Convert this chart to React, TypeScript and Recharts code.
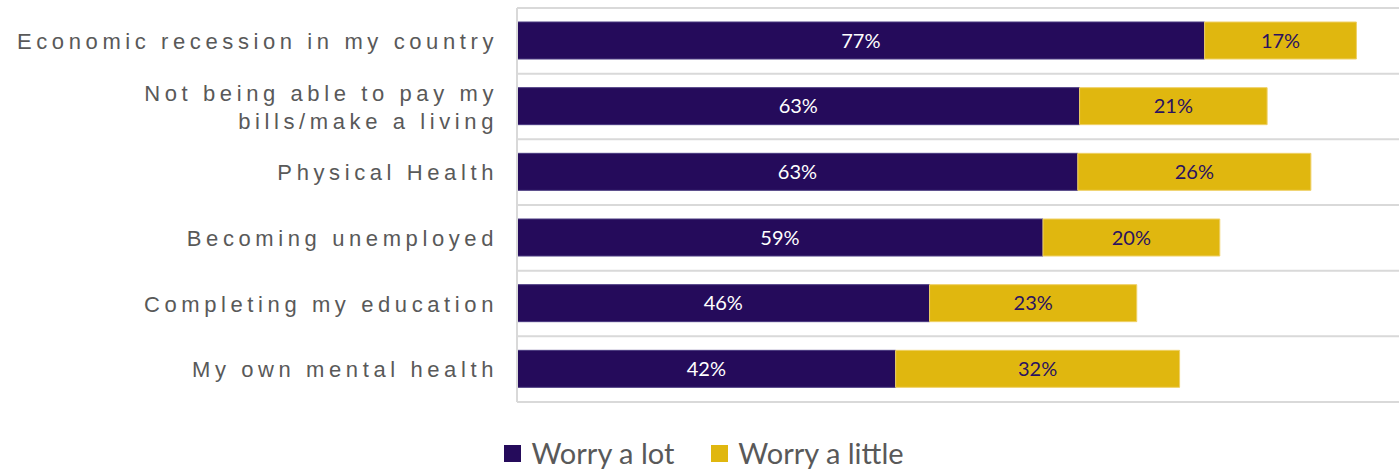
import { BarChart, Bar, XAxis, YAxis, CartesianGrid, Legend, LabelList } from 'recharts';

// Worry survey: share of respondents per concern
const categories = [
  'Economic recession in my country',
  'Not being able to pay my\nbills/make a living',
  'Physical Health',
  'Becoming unemployed',
  'Completing my education',
  'My own mental health',
];
const worryALot = [77, 63, 62.8, 58.9, 46.2, 42.4];
const worryALittle = [17, 21, 26.1, 19.8, 23.2, 31.8];

const colors = {
  lot: '#250b5b',
  little: '#e0b70f',
  grid: '#d9d9d9',
  text: '#595959',
  darkLabel: '#2a1260',
};

const data = categories.map((name, i) => ({
  name,
  lot: worryALot[i],
  little: worryALittle[i],
}));

const pct = (v: any) => `${Math.round(Number(v))}%`;

function CategoryTick(props: any) {
  const { x, y, payload } = props;
  const lines = String(payload.value).split('\n');
  const lineHeight = 28;
  const startY = y - ((lines.length - 1) * lineHeight) / 2;
  return (
    <text
      x={x}
      y={startY}
      textAnchor="end"
      dominantBaseline="central"
      fill={colors.text}
      fontSize={22}
      fontFamily="'Liberation Sans', Arial, sans-serif"
      letterSpacing={4.6}
    >
      {lines.map((line, i) => (
        <tspan key={i} x={x} y={startY + i * lineHeight}>
          {line}
        </tspan>
      ))}
    </text>
  );
}

function LegendContent() {
  const items = [
    { label: 'Worry a lot', color: colors.lot },
    { label: 'Worry a little', color: colors.little },
  ];
  return (
    <div style={{ display: 'flex', justifyContent: 'center', alignItems: 'center', gap: 37 }}>
      {items.map(item => (
        <div key={item.label} style={{ display: 'flex', alignItems: 'center' }}>
          <span style={{ width: 17, height: 17, background: item.color, marginRight: 10, display: 'inline-block' }} />
          <span style={{ color: colors.text, fontSize: 29, fontFamily: 'Lato, sans-serif', lineHeight: '28px' }}>
            {item.label}
          </span>
        </div>
      ))}
    </div>
  );
}

export default function App() {
  const n = categories.length;
  return (
    <div style={{ position: 'absolute', left: 0, top: 0, width: 1399, height: 469, overflow: 'hidden', background: '#fff' }}>
      <BarChart
        width={1420}
        height={469}
        data={data}
        layout="vertical"
        margin={{ top: 8, right: 10, bottom: 67, left: 0 }}
      >
        <CartesianGrid
          vertical={false}
          stroke={colors.grid}
          strokeWidth={2}
          horizontalCoordinatesGenerator={({ offset }: any) =>
            Array.from({ length: n + 1 }, (_, i) => offset.top + (i * offset.height) / n)
          }
        />
        <XAxis type="number" domain={[0, 100]} hide />
        <YAxis
          type="category"
          dataKey="name"
          width={517}
          tickSize={0}
          tickMargin={19}
          tickLine={false}
          axisLine={{ stroke: colors.grid, strokeWidth: 2 }}
          tick={<CategoryTick />}
          interval={0}
        />
        <Legend
          layout="horizontal"
          verticalAlign="middle"
          align="center"
          content={<LegendContent />}
          wrapperStyle={{ left: 0, width: 1408, top: 439 }}
        />
        <Bar dataKey="lot" stackId="a" fill={colors.lot} stroke="#4a3a80" strokeWidth={1} barSize={37} isAnimationActive={false}>
          <LabelList dataKey="lot" position="center" formatter={pct} fill="#ffffff" fontSize={20} fontFamily="Lato, sans-serif" />
        </Bar>
        <Bar dataKey="little" stackId="a" fill={colors.little} stroke="#efd066" strokeWidth={1} barSize={37} isAnimationActive={false}>
          <LabelList dataKey="little" position="center" formatter={pct} fill={colors.darkLabel} fontSize={20} fontFamily="Lato, sans-serif" />
        </Bar>
      </BarChart>
    </div>
  );
}
